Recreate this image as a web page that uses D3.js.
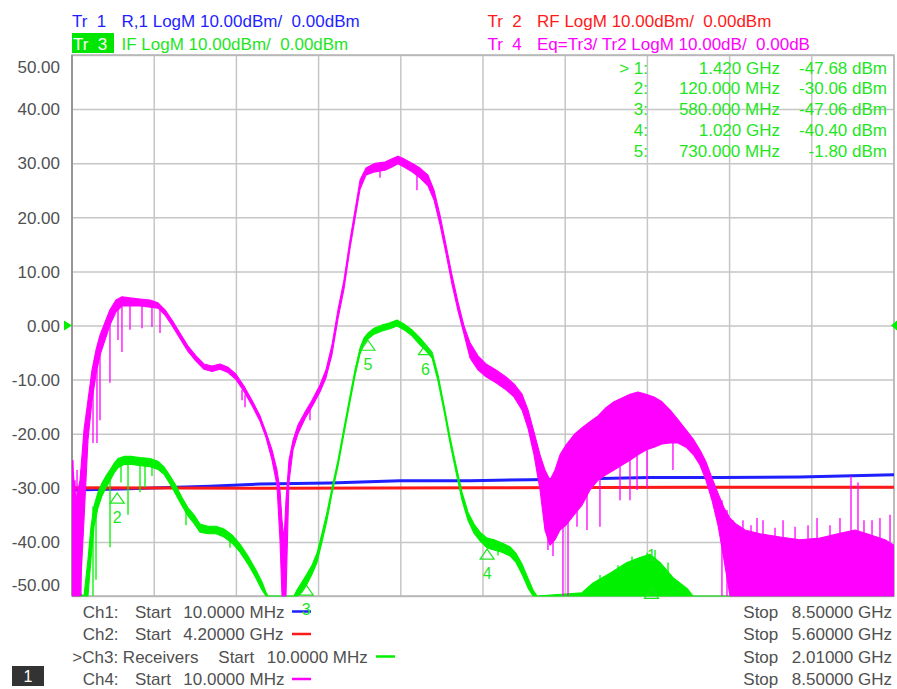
<!DOCTYPE html>
<html>
<head>
<meta charset="utf-8">
<script src="https://cdn.jsdelivr.net/npm/d3@7"></script>
<style>
  html, body { margin: 0; padding: 0; background: #fff; }
  svg { display: block; font-family: "Liberation Sans", Arial, sans-serif; }
  text { white-space: pre; }
</style>
</head>
<body>
<svg id="chart" width="897" height="689"></svg>
<script>
// ---------------- data ----------------
// Tr4 (Ch4, magenta): Eq=Tr3/Tr2, 10 MHz .. 8.5 GHz — upper / lower envelope of the noisy trace
const ch4FreqGHz = [0.01,0.051,0.093,0.134,0.175,0.217,0.258,0.299,0.351,0.402,
  0.464,0.526,0.609,0.712,0.816,0.898,0.971,1.043,1.125,1.208,
  1.291,1.373,1.456,1.539,1.621,1.704,1.786,1.869,1.952,2.014,
  2.076,2.127,2.158,2.179,2.200,2.220,2.251,2.293,2.344,2.417,
  2.489,2.571,2.633,2.695,2.757,2.819,2.881,2.933,2.985,3.047,
  3.140,3.243,3.315,3.377,3.439,3.522,3.604,3.687,3.749,3.811,
  3.873,3.935,3.997,4.059,4.121,4.203,4.286,4.389,4.493,4.575,
  4.658,4.720,4.782,4.844,4.895,4.947,4.999,5.050,5.112,5.195,
  5.278,5.360,5.443,5.525,5.608,5.691,5.773,5.856,5.939,6.021,
  6.104,6.186,6.269,6.352,6.434,6.496,6.558,6.620,6.682,6.744,
  6.806,6.868,6.961,7.116,7.322,7.529,7.736,7.942,8.097,8.252,8.407,8.500];
const ch4High = [-24.9,-32.3,-28.6,-19.3,-13.8,-8.2,-4.5,-1.8,0.6,2.9,
  4.7,5.3,5.1,4.9,4.7,4.2,2.9,1.0,-1.4,-3.8,
  -5.6,-7.1,-7.5,-7.1,-7.7,-9.0,-11.2,-13.8,-16.7,-19.7,
  -23.0,-26.7,-30.4,-36.0,-39.6,-32.3,-24.9,-21.2,-18.4,-16.0,
  -13.8,-11.0,-8.2,-3.6,2.9,8.4,15.8,21.3,26.9,29.1,
  30.0,30.2,30.8,31.3,30.8,30.0,29.1,27.8,25.0,20.4,
  14.9,9.3,4.3,-0.1,-3.2,-5.6,-7.1,-8.2,-9.5,-10.8,
  -12.7,-15.6,-19.7,-23.9,-26.7,-28.6,-26.7,-23.9,-22.1,-20.2,
  -18.9,-17.8,-16.7,-15.2,-14.1,-13.4,-12.7,-12.3,-12.7,-13.2,
  -14.1,-15.6,-17.4,-19.3,-21.2,-23.0,-25.2,-28.2,-31.0,-33.7,
  -35.6,-36.7,-37.8,-38.5,-39.1,-39.6,-39.3,-38.4,-37.8,-38.7,-39.6,-40.6];
const ch4Low = [-50,-50,-50,-35.9,-21.2,-13.8,-9.1,-5.5,-2.7,0.1,
  2.5,3.6,3.6,3.6,3.4,3.2,1.9,0.0,-2.4,-4.8,
  -6.6,-8.1,-8.5,-8.1,-8.7,-10.0,-12.2,-14.8,-17.7,-20.7,
  -24.9,-29.5,-39.6,-50,-50,-50,-29.0,-23.0,-20.0,-17.2,
  -15.0,-12.3,-9.7,-5.4,1.2,6.7,14.2,19.7,25.2,27.8,
  28.4,28.7,29.3,29.9,29.3,28.4,27.3,25.8,23.2,18.6,
  13.3,7.6,2.7,-1.6,-6.0,-8.2,-9.5,-10.6,-11.9,-13.2,
  -15.6,-19.0,-23.9,-30.4,-37.8,-40.6,-39.6,-37.8,-36.9,-35.0,
  -33.2,-30.4,-28.6,-27.6,-26.7,-25.8,-24.9,-23.9,-23.0,-22.5,
  -21.9,-21.7,-21.7,-22.5,-24.0,-25.8,-28.6,-32.3,-36.9,-43.3,
  -50,-50,-50,-50,-50,-50,-50,-50,-50,-50,-50,-50];
// isolated excursions of Tr4: [GHz, dB from, dB to]
const ch4Spikes = [[0.020,-24.9,-50],[0.041,-28.6,-50],[0.062,-26.7,-50],[0.082,-30.4,-50],[0.103,-26.7,-50],
  [0.227,-10.1,-21.7],[0.268,-8.2,-21.7],[0.299,-2.7,-17.5],[0.402,1.0,-10.6],[0.485,3.8,-2.7],
  [0.526,3.8,-4.9],[0.609,3.8,-0.8],[0.733,3.8,-0.5],[0.836,3.8,-0.3],[0.919,2.9,-1.4],
  [1.766,-11.9,-13.8],[1.797,-12.8,-15.1],[2.468,-14.7,-17.5],[3.191,29.7,27.3],[3.573,28.7,25.0],
  [4.926,-32.3,-41.5],[4.978,-32.3,-42.6],[5.081,-28.6,-50],[5.133,-28.6,-50],[5.226,-26.7,-37.2],
  [5.329,-24.9,-37.8],[5.463,-21.2,-37.2],[5.670,-17.5,-32.3],[5.773,-17.5,-32.3],[5.846,-15.6,-30.4],
  [5.949,-13.8,-29.9],[6.217,-17.5,-26.7],[6.723,-32.3,-50],[6.775,-34.1,-50],[6.837,-36.0,-50],
  [6.940,-36.0,-40],[7.023,-36.9,-40],[7.085,-35.6,-40],[7.147,-36.0,-40],[7.271,-37.4,-40],
  [7.354,-36.0,-40],[7.478,-37.2,-40],[7.612,-36.9,-40],[7.705,-35.6,-40],[7.839,-36.9,-40],
  [7.942,-35.6,-40],[8.056,-27.8,-40],[8.128,-29.0,-40],[8.190,-36.0,-40],[8.273,-36.0,-40],
  [8.355,-35.6,-40],[8.459,-35.0,-40]];

// Tr3 (Ch3, green): IF receiver, 10 MHz .. 2.01 GHz
const ch3FreqMHz = [10,14.9,39.2,48.9,56.2,63.5,73.3,83.0,92.7,102.5,
  112.2,121.9,136.5,156.0,175.5,199.8,219.2,233.8,248.4,263.0,
  277.6,292.2,306.8,321.4,340.9,360.4,379.8,399.3,418.8,438.2,
  457.7,472.3,482.0,486.9,550.1,557.4,569.6,581.8,593.9,606.1,
  618.3,630.4,642.6,657.2,671.8,686.4,698.6,710.7,720.5,730.2,
  744.8,764.3,783.7,800.8,817.8,837.3,856.7,871.3,885.9,900.5,
  915.1,929.7,944.3,958.9,973.5,988.1,1002.7,1019.7,1036.8,1056.2,
  1075.7,1090.3,1104.9,1119.5,1131.7,1141.4,1250.9,1277.7,1319.1,1360.4,
  1392.0,1416.3,1440.7,1472.3,1506.4,1521.0,2010];
const ch3High = [-44.9,-48.9,-50,-43.2,-37.2,-33.4,-30.8,-29.1,-27.8,-26.7,
  -25.5,-24.6,-24.2,-24.2,-24.4,-24.6,-25.1,-26.1,-27.8,-29.6,
  -31.8,-33.7,-35.0,-36.7,-37.1,-37.1,-37.6,-38.7,-40.4,-42.6,
  -45.2,-47.4,-49.3,-50,-50,-48.9,-47.4,-45.9,-44.3,-42.1,
  -38.4,-34.5,-30.0,-24.9,-18.9,-13.0,-8.2,-4.2,-2.3,-1.4,
  -0.5,0.1,0.5,1.0,0.3,-0.8,-2.3,-3.6,-4.9,-9.1,
  -14.7,-20.6,-25.8,-30.8,-34.5,-36.7,-38.2,-39.3,-39.6,-40.2,
  -40.9,-42.1,-44.1,-46.7,-48.9,-50,-49.4,-47.6,-45.8,-43.8,
  -42.9,-42.3,-43.8,-46.6,-48.6,-50,-50];
const ch3Low = [-50,-50,-50,-50,-43.2,-37.2,-33.7,-31.5,-30.0,-28.7,
  -27.3,-26.3,-25.7,-25.7,-25.9,-26.1,-26.6,-27.5,-29.3,-31.3,
  -33.3,-35.2,-36.6,-38.2,-38.5,-38.5,-39.1,-40.2,-41.9,-44.1,
  -46.7,-48.9,-50,-50,-50,-50,-49.3,-47.8,-46.0,-43.8,
  -40.0,-36.0,-31.1,-26.0,-20.0,-14.1,-9.3,-5.3,-3.4,-2.5,
  -1.6,-1.0,-0.6,-0.1,-0.8,-1.9,-3.6,-4.7,-6.0,-10.3,
  -15.8,-21.7,-27.1,-32.3,-36.0,-38.4,-39.8,-41.1,-41.5,-41.9,
  -42.6,-43.8,-46.0,-48.5,-50,-50,-50,-50,-50,-50,
  -50,-50,-50,-50,-50,-50,-50];
// isolated excursions of Tr3: [MHz, dB from, dB to]
const ch3Spikes = [[61.1,-33.4,-50],[68.4,-32.3,-47.0],[102.5,-26.7,-41.0],[129.2,-24.6,-29.0],
  [146.3,-25.0,-35.0],[175.5,-25.0,-30.8],[187.6,-25.0,-29.9],[204.6,-25.2,-27.8],
  [287.4,-34.0,-36.9],[394.4,-38.9,-41.1],[1046.5,-40.0,-42.5],
  [1294.7,-46.1,-50],[1338.5,-44.3,-50],[1372.6,-42.7,-50],[1409.1,-42.0,-50],
  [1428.6,-41.5,-50],[1460.2,-43.8,-50]];

// Tr1 (Ch1, blue): R,1 reference receiver, 10 MHz .. 8.5 GHz
const ch1FreqGHz = [0.01,0.506,0.919,1.435,1.952,2.675,3.398,4.121,4.741,5.463,5.980,6.703,7.529,8.5];
const ch1Level   = [-30.4,-30.2,-30.0,-29.7,-29.3,-29.1,-28.7,-28.7,-28.5,-28.3,-28.1,-28.1,-28.0,-27.6];

// Tr2 (Ch2, red): RF, 4.2 .. 5.6 GHz
const ch2FreqGHz = [4.2,4.55,4.9,5.25,5.6];
const ch2Level   = [-30.0,-30.1,-30.0,-29.9,-29.9];

// Tr3 markers
const markerIds     = ["1", "2", "3", "4", "5", "6"];
const markerFreqMHz = [1420, 120, 580, 1020, 730, 870];
const markerLevel   = [-47.68, -30.06, -47.06, -40.40, -1.80, -2.60];
const markerTableCount = 5;

const yTickValues = [50, 40, 30, 20, 10, 0, -10, -20, -30, -40, -50];
const xDivisions = 10;

const channelLabels = ["Ch1:", "Ch2:", ">Ch3: Receivers", "Ch4:"];
const channelStart  = ["10.0000 MHz", "4.20000 GHz", "10.0000 MHz", "10.0000 MHz"];
const channelStop   = ["8.50000 GHz", "5.60000 GHz", "2.01000 GHz", "8.50000 GHz"];

// ---------------- layout ----------------
const C = { blue: "#1f1fff", red: "#ff1a1a", green: "#00f000", greenText: "#1ee61e",
            magenta: "#ff00ff", gray: "#505050", grid: "#c6c6c6" };
const L = 72, R = 894, T = 55, B = 596;

const svg = d3.select("#chart");
const yScale = d3.scaleLinear().domain([-50, 50]).range([B, T]);
const x1 = d3.scaleLinear().domain([0.01, 8.5]).range([L, R]);   // Ch1 / Ch4
const x2 = d3.scaleLinear().domain([4.2, 5.6]).range([L, R]);    // Ch2
const x3 = d3.scaleLinear().domain([10, 2010]).range([L, R]);    // Ch3

// grid + y axis
const gridX = d3.range(xDivisions + 1).map(i => 0.01 + i * (8.5 - 0.01) / xDivisions);
svg.append("g").selectAll("line").data(gridX).join("line")
  .attr("x1", d => x1(d)).attr("x2", d => x1(d)).attr("y1", T).attr("y2", B)
  .attr("stroke", C.grid).attr("stroke-width", 1.5);

const yAxis = svg.append("g").attr("transform", `translate(${L},0)`)
  .call(d3.axisLeft(yScale).tickValues(yTickValues).tickSize(-(R - L)).tickPadding(12)
    .tickFormat(d => d.toFixed(2)));
yAxis.select(".domain").remove();
yAxis.selectAll(".tick line").attr("stroke", C.grid).attr("stroke-width", 1.5);
yAxis.selectAll(".tick text")
  .attr("fill", C.gray).attr("font-size", 17).attr("font-family", "Liberation Sans, Arial, sans-serif")
  .attr("dy", d => d === 50 ? "1.0em" : d === -50 ? "-0.33em" : "0.34em");

// frame
svg.append("rect").attr("x", L).attr("y", T).attr("width", R - L).attr("height", B - T)
  .attr("fill", "none").attr("stroke", "#b4b4b4").attr("stroke-width", 1.5);
svg.append("line").attr("x1", L).attr("x2", L).attr("y1", T).attr("y2", B)
  .attr("stroke", "#8a8a8a").attr("stroke-width", 1.5);

// traces
svg.append("defs").append("clipPath").attr("id", "plotClip")
  .append("rect").attr("x", L).attr("y", T).attr("width", R - L).attr("height", B - T + 2);
const plot = svg.append("g").attr("clip-path", "url(#plotClip)");

function band(xs, freqs, hi, lo, color) {
  const rows = freqs.map((f, i) => ({ f, hi: hi[i], lo: lo[i] }));
  const area = d3.area().x(d => xs(d.f)).y0(d => yScale(d.lo)).y1(d => yScale(d.hi));
  plot.append("path").datum(rows).attr("d", area)
    .attr("fill", color).attr("stroke", color).attr("stroke-width", 1.1).attr("stroke-linejoin", "round");
}
function spikes(xs, list, color) {
  plot.append("g").selectAll("line").data(list).join("line")
    .attr("x1", d => xs(d[0])).attr("x2", d => xs(d[0]))
    .attr("y1", d => yScale(d[1])).attr("y2", d => yScale(d[2]))
    .attr("stroke", color).attr("stroke-width", 1.3);
}
function trace(xs, freqs, levels, color) {
  const rows = freqs.map((f, i) => ({ f, v: levels[i] }));
  plot.append("path").datum(rows)
    .attr("d", d3.line().x(d => xs(d.f)).y(d => yScale(d.v)))
    .attr("fill", "none").attr("stroke", color).attr("stroke-width", 3);
}

trace(x1, ch1FreqGHz, ch1Level, C.blue);
trace(x2, ch2FreqGHz, ch2Level, C.red);
band(x3, ch3FreqMHz, ch3High, ch3Low, C.green);
spikes(x3, ch3Spikes, C.green);
band(x1, ch4FreqGHz, ch4High, ch4Low, C.magenta);
spikes(x1, ch4Spikes, C.magenta);

// Tr3 markers: outlined triangle under the point, number below (active marker 1 labelled above)
const markers = markerIds.map((id, i) => ({ id, f: markerFreqMHz[i], v: markerLevel[i] }));
const mg = svg.append("g");
mg.selectAll("path").data(markers).join("path")
  .attr("d", d => { const x = x3(d.f), y = yScale(d.v);
    return `M${x - 7},${y + 15}L${x},${y + 5}L${x + 7},${y + 15}Z`; })
  .attr("fill", "none").attr("stroke", C.greenText).attr("stroke-width", 1.2);
mg.selectAll("text").data(markers).join("text")
  .attr("x", d => x3(d.f)).attr("y", d => d.id === "1" ? yScale(d.v) - 22 : yScale(d.v) + 35)
  .attr("text-anchor", "middle").attr("font-size", 16).attr("fill", C.greenText)
  .text(d => d.id);

// reference-level arrows at 0 dB
svg.append("path").attr("d", `M64,${yScale(0) - 5}L72,${yScale(0)}L64,${yScale(0) + 5}Z`).attr("fill", C.green);
svg.append("path").attr("d", `M897,${yScale(0) - 5}L891,${yScale(0)}L897,${yScale(0) + 5}Z`).attr("fill", C.green);

// trace headers
const hdr = svg.append("g").attr("font-size", 17);
hdr.append("text").attr("x", 72).attr("y", 27).attr("fill", C.blue).text("Tr  1");
hdr.append("text").attr("x", 121.5).attr("y", 27).attr("fill", C.blue).text("R,1 LogM 10.00dBm/  0.00dBm");
hdr.append("rect").attr("x", 72).attr("y", 33).attr("width", 42).attr("height", 20).attr("fill", "#00e600");
hdr.append("text").attr("x", 73).attr("y", 50).attr("fill", "#fff").text("Tr  3");
hdr.append("text").attr("x", 121.5).attr("y", 50).attr("fill", C.greenText).text("IF LogM 10.00dBm/  0.00dBm");
hdr.append("text").attr("x", 487.5).attr("y", 27).attr("fill", C.red).text("Tr  2");
hdr.append("text").attr("x", 537).attr("y", 27).attr("fill", C.red).text("RF LogM 10.00dBm/  0.00dBm");
hdr.append("text").attr("x", 487.5).attr("y", 50).attr("fill", C.magenta).text("Tr  4");
hdr.append("text").attr("x", 537).attr("y", 50).attr("fill", C.magenta).text("Eq=Tr3/ Tr2 LogM 10.00dB/  0.00dB");

// marker readout table
const fmtFreq = f => f >= 1000 ? (f / 1000).toFixed(3) + " GHz" : f.toFixed(3) + " MHz";
const tbl = svg.append("g").attr("font-size", 17).attr("fill", C.greenText).attr("text-anchor", "end");
markers.slice(0, markerTableCount).forEach((m, i) => {
  const yy = 73.5 + i * 20.8;
  tbl.append("text").attr("x", 648).attr("y", yy).text((i === 0 ? "> " : "") + m.id + ":");
  tbl.append("text").attr("x", 780).attr("y", yy).text(fmtFreq(m.f));
  tbl.append("text").attr("x", 887).attr("y", yy).text(m.v.toFixed(2) + " dBm");
});

// channel start/stop footer
const chColors = [C.blue, C.red, C.green, C.magenta];
const foot = svg.append("g").attr("font-size", 17).attr("fill", C.gray);
channelLabels.forEach((lab, i) => {
  const yy = 617.5 + i * 22.5;
  const isRx = i === 2;
  foot.append("text").attr("x", isRx ? 72.3 : 82.7).attr("y", yy).text(lab);
  foot.append("text").attr("x", isRx ? 218.3 : 135).attr("y", yy).text("Start");
  foot.append("text").attr("x", isRx ? 266.7 : 183.3).attr("y", yy).text(channelStart[i]);
  const lx = isRx ? 376 : 292;
  foot.append("line").attr("x1", lx).attr("x2", lx + 19).attr("y1", yy - 6).attr("y2", yy - 6)
    .attr("stroke", chColors[i]).attr("stroke-width", 2.5);
  foot.append("text").attr("x", 743.3).attr("y", yy).text("Stop");
  foot.append("text").attr("x", 892).attr("y", yy).attr("text-anchor", "end").text(channelStop[i]);
});
// marker numbers sit above the footer text
mg.raise();

// window number badge
svg.append("rect").attr("x", 12).attr("y", 666).attr("width", 32).attr("height", 20).attr("fill", "#333");
svg.append("text").attr("x", 28).attr("y", 682).attr("text-anchor", "middle")
  .attr("font-size", 16).attr("fill", "#fff").text("1");
</script>
</body>
</html>
